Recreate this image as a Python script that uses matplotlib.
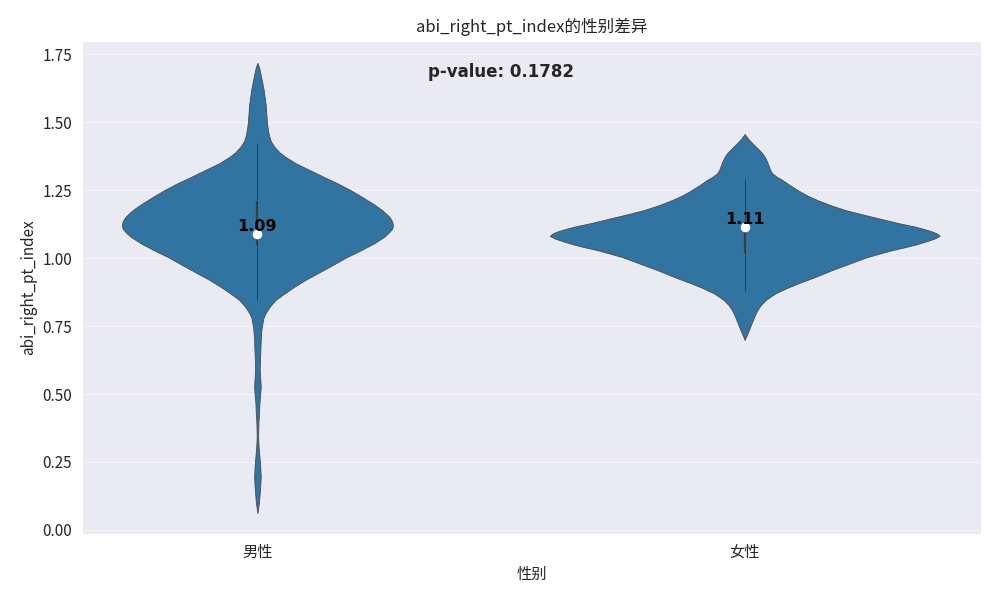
import numpy as np
import matplotlib
matplotlib.use('Agg')
import matplotlib.pyplot as plt
import seaborn as sns

# groups and summary stats
groups = ['男性', '女性']
medians = [1.088, 1.113]
q1 = [1.048, 1.018]
q3 = [1.212, 1.125]
whisk_lo = [0.846, 0.881]
whisk_hi = [1.423, 1.290]
p_value = 0.1782

male_y = [0.062, 0.100, 0.122, 0.160, 0.196, 0.235, 0.270, 0.305, 0.343, 0.393,
          0.430, 0.467, 0.500, 0.527, 0.560, 0.589, 0.638, 0.699, 0.736, 0.760,
          0.780, 0.797, 0.820, 0.846, 0.870, 0.895, 0.920, 0.944, 0.970, 1.003,
          1.030, 1.055, 1.079, 1.092, 1.100, 1.109, 1.118, 1.127, 1.135, 1.145,
          1.153, 1.177, 1.200, 1.225, 1.251, 1.276, 1.300, 1.325, 1.350, 1.373,
          1.390, 1.410, 1.430, 1.453, 1.480, 1.502, 1.564, 1.625, 1.674, 1.700,
          1.719]
male_dens = [0.0, 1.5, 2.0, 2.8, 3.3, 2.8, 2.0, 1.2, 0.7, 1.0,
             1.6, 2.0, 2.8, 3.3, 2.8, 2.3, 2.7, 3.3, 4.0, 5.0,
             6.0, 8.0, 12.0, 18.0, 27.0, 37.0, 48.0, 60.0, 73.0, 89.0,
             104.0, 117.0, 127.0, 131.0, 133.0, 135.0, 135.7, 135.5, 135.0, 133.5,
             132.0, 125.0, 116.0, 105.0, 93.0, 80.0, 66.0, 52.0, 38.0, 28.0,
             22.0, 17.0, 13.5, 11.5, 10.2, 9.5, 8.3, 6.0, 3.3, 1.8,
             0.0]
female_y = [0.699, 0.710, 0.722, 0.736, 0.755, 0.773, 0.790, 0.809, 0.828, 0.846,
            0.858, 0.871, 0.890, 0.908, 0.930, 0.957, 0.980, 1.002, 1.016, 1.030,
            1.040, 1.050, 1.061, 1.072, 1.082, 1.090, 1.098, 1.107, 1.116, 1.130,
            1.147, 1.162, 1.177, 1.195, 1.214, 1.230, 1.248, 1.268, 1.288, 1.300,
            1.312, 1.325, 1.340, 1.355, 1.370, 1.386, 1.400, 1.413, 1.423, 1.435,
            1.447, 1.457]
female_dens = [0.0, 1.2, 2.6, 4.3, 6.3, 8.3, 10.2, 12.7, 16.2, 21.0,
               25.5, 31.0, 42.0, 54.0, 70.0, 88.0, 105.0, 121.0, 134.0, 148.0,
               160.0, 171.0, 181.0, 190.0, 195.3, 193.0, 188.0, 180.0, 171.0, 153.0,
               134.0, 117.0, 101.0, 86.0, 72.7, 63.0, 54.3, 45.5, 37.7, 32.0,
               27.7, 25.5, 24.0, 22.5, 20.5, 17.7, 14.0, 10.5, 7.7, 4.5,
               2.0, 0.0]

sns.set_style('darkgrid')
plt.rcParams['font.family'] = ['Noto Sans CJK SC', 'DejaVu Sans']
plt.rcParams['axes.unicode_minus'] = False

fig, ax = plt.subplots(figsize=(10, 6), dpi=100)
fig.subplots_adjust(left=0.082, right=0.981, bottom=0.11, top=0.932)

profiles = [(male_y, male_dens), (female_y, female_dens)]
peak = max(max(d) for _, d in profiles)
vpstats = []
widths = []
for (ys, ds), med in zip(profiles, medians):
    vpstats.append({'coords': np.array(ys), 'vals': np.array(ds),
                    'mean': med, 'median': med,
                    'min': ys[0], 'max': ys[-1]})
    widths.append(0.8 * max(ds) / peak)

pos = np.arange(len(groups))
parts = ax.violin(vpstats, positions=pos, widths=widths,
                  showmeans=False, showextrema=False, showmedians=False)
for body in parts['bodies']:
    body.set_facecolor('#3274a1')
    body.set_edgecolor('#4a4a4a')
    body.set_linewidth(0.6)
    body.set_alpha(1)
    body.set_zorder(2)

ax.vlines(pos, whisk_lo, whisk_hi, color='#3d3d3d', lw=0.7, zorder=3)
ax.vlines(pos, q1, q3, color='#3d3d3d', lw=1.6, zorder=3)
ax.scatter(pos, medians, s=48, color='white', zorder=4, linewidths=0)

for x, m in zip(pos, medians):
    ax.text(x, m, f'{m:.2f}', ha='center', va='bottom', fontsize=11.5,
            fontweight='bold', color='black', family='DejaVu Sans', zorder=5)

ax.text(0.5, 1.685, f'p-value: {p_value:.4f}', ha='center', va='center',
        fontsize=12, fontweight='bold', color='#262626', family='DejaVu Sans')

ax.set_xlim(-0.36, 1.485)
ax.set_ylim(-0.015, 1.80)
ax.set_xticks(pos)
ax.set_xticklabels(groups, fontsize=11)
ax.set_yticks(np.arange(0, 1.76, 0.25))
ax.set_yticklabels([f'{t:.2f}' for t in np.arange(0, 1.76, 0.25)], fontsize=11)
ax.xaxis.grid(False)
ax.yaxis.grid(True, color='white', alpha=0.55)
ax.set_xlabel('性别', fontsize=11)
ax.set_ylabel('abi_right_pt_index', fontsize=11)
ax.set_title('abi_right_pt_index的性别差异', fontsize=12)

plt.savefig('out.png', dpi=100)
